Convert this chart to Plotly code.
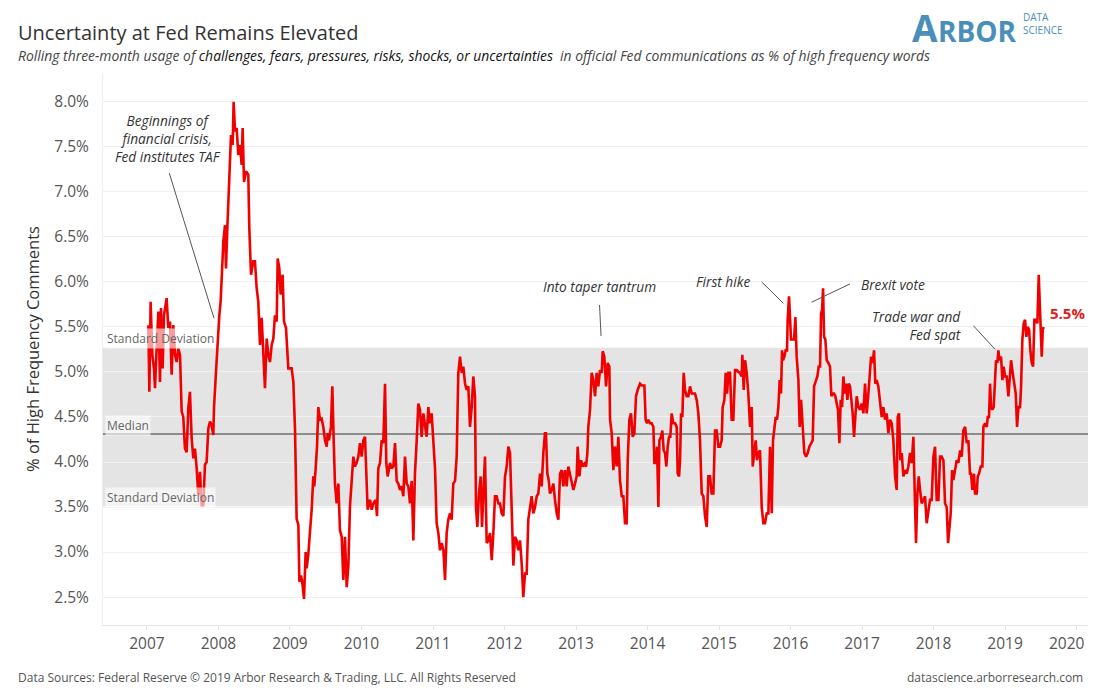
import plotly.graph_objects as go

# Rolling 3-month share of "uncertainty" words (% of high frequency words)
dates = [
    2007.019, 2007.033, 2007.051, 2007.075, 2007.098, 2007.112, 2007.135, 2007.159, 2007.182, 2007.196,
    2007.219, 2007.238, 2007.275, 2007.298, 2007.322, 2007.345, 2007.368, 2007.392, 2007.415, 2007.438,
    2007.462, 2007.485, 2007.508, 2007.531, 2007.555, 2007.578, 2007.601, 2007.625, 2007.648, 2007.671,
    2007.695, 2007.718, 2007.741, 2007.765, 2007.788, 2007.811, 2007.834, 2007.858, 2007.881, 2007.904,
    2007.928, 2007.937, 2007.965, 2007.988, 2008.012, 2008.030, 2008.049, 2008.068, 2008.091, 2008.105,
    2008.124, 2008.142, 2008.161, 2008.175, 2008.198, 2008.212, 2008.231, 2008.254, 2008.277, 2008.301,
    2008.324, 2008.338, 2008.357, 2008.385, 2008.417, 2008.431, 2008.455, 2008.487, 2008.510, 2008.534,
    2008.557, 2008.580, 2008.604, 2008.627, 2008.650, 2008.674, 2008.697, 2008.720, 2008.744, 2008.767,
    2008.790, 2008.814, 2008.828, 2008.851, 2008.869, 2008.897, 2008.916, 2008.944, 2008.977, 2009.023,
    2009.047, 2009.070, 2009.093, 2009.117, 2009.131, 2009.154, 2009.177, 2009.196, 2009.219, 2009.233,
    2009.256, 2009.280,
    2009.303, 2009.326, 2009.340, 2009.359, 2009.378, 2009.396, 2009.420, 2009.443, 2009.466, 2009.490,
    2009.513, 2009.527, 2009.545, 2009.573, 2009.592, 2009.611, 2009.629, 2009.653, 2009.676, 2009.699,
    2009.723, 2009.746, 2009.769, 2009.793, 2009.816, 2009.839, 2009.862, 2009.886, 2009.909, 2009.932,
    2009.956, 2009.979, 2010.002, 2010.026, 2010.049, 2010.072, 2010.086, 2010.119, 2010.142, 2010.166,
    2010.198, 2010.217, 2010.235, 2010.259, 2010.282, 2010.305, 2010.329, 2010.347, 2010.366, 2010.399,
    2010.422, 2010.445, 2010.469, 2010.492, 2010.515, 2010.538, 2010.562, 2010.585, 2010.608, 2010.632,
    2010.655, 2010.678, 2010.702, 2010.725, 2010.748, 2010.772, 2010.795, 2010.818, 2010.841, 2010.865,
    2010.888, 2010.911, 2010.935, 2010.958, 2010.981, 2011.005, 2011.028, 2011.051, 2011.075, 2011.098,
    2011.121, 2011.145, 2011.168, 2011.191, 2011.214, 2011.238, 2011.261, 2011.284, 2011.308, 2011.331,
    2011.354, 2011.378, 2011.401, 2011.424, 2011.448, 2011.471, 2011.494, 2011.517, 2011.541, 2011.564,
    2011.587,
    2011.601, 2011.620, 2011.643, 2011.667, 2011.685, 2011.704, 2011.727, 2011.751, 2011.774, 2011.797,
    2011.821, 2011.844, 2011.867, 2011.890, 2011.914, 2011.937, 2011.960, 2011.984, 2012.007, 2012.030,
    2012.054, 2012.077, 2012.100, 2012.124, 2012.147, 2012.170, 2012.193, 2012.217, 2012.240, 2012.263,
    2012.287, 2012.310, 2012.333, 2012.357, 2012.380, 2012.403, 2012.427, 2012.450, 2012.473, 2012.497,
    2012.520, 2012.543, 2012.566, 2012.580, 2012.599, 2012.618, 2012.636, 2012.660, 2012.683, 2012.706,
    2012.730, 2012.753, 2012.776, 2012.800, 2012.823, 2012.846, 2012.869, 2012.893, 2012.916, 2012.939,
    2012.963, 2012.986, 2013.009, 2013.023, 2013.047, 2013.070, 2013.093, 2013.117, 2013.140, 2013.159,
    2013.172, 2013.196, 2013.219, 2013.242, 2013.266, 2013.289, 2013.312, 2013.336, 2013.359, 2013.373,
    2013.396, 2013.420, 2013.443, 2013.466, 2013.476, 2013.499, 2013.522, 2013.545, 2013.569, 2013.592,
    2013.615, 2013.639, 2013.662, 2013.685, 2013.709, 2013.723, 2013.746, 2013.769, 2013.793, 2013.816,
    2013.839, 2013.862, 2013.895,
    2013.918, 2013.956, 2013.974, 2013.993, 2014.012, 2014.035, 2014.058, 2014.082, 2014.096, 2014.119,
    2014.133, 2014.152, 2014.166, 2014.189, 2014.207, 2014.226, 2014.245, 2014.263, 2014.282, 2014.301,
    2014.319, 2014.338, 2014.361, 2014.385, 2014.408, 2014.422, 2014.441, 2014.455, 2014.469, 2014.487,
    2014.506, 2014.524, 2014.548, 2014.571, 2014.594, 2014.618, 2014.641, 2014.664, 2014.688, 2014.711,
    2014.734, 2014.758, 2014.781, 2014.804, 2014.828, 2014.851, 2014.874, 2014.897, 2014.921, 2014.944,
    2014.967, 2014.991, 2015.014, 2015.037, 2015.051, 2015.075, 2015.093, 2015.112, 2015.131, 2015.154,
    2015.177, 2015.200, 2015.224, 2015.247, 2015.270, 2015.294, 2015.317, 2015.326, 2015.345, 2015.364,
    2015.387, 2015.410, 2015.434, 2015.457, 2015.471, 2015.490, 2015.513, 2015.531, 2015.550, 2015.573,
    2015.597, 2015.620, 2015.643, 2015.667, 2015.690, 2015.713, 2015.737, 2015.755, 2015.774, 2015.793,
    2015.811, 2015.830, 2015.848, 2015.867, 2015.881, 2015.895, 2015.914, 2015.932, 2015.951, 2015.960,
    2015.979, 2015.993, 2016.007, 2016.026, 2016.049, 2016.068, 2016.086, 2016.110, 2016.128, 2016.147,
    2016.170, 2016.193,
    2016.217, 2016.240, 2016.263, 2016.287, 2016.310, 2016.329, 2016.352, 2016.375, 2016.394, 2016.413,
    2016.427, 2016.441, 2016.455, 2016.469, 2016.487, 2016.506, 2016.529, 2016.552, 2016.571, 2016.590,
    2016.608, 2016.627, 2016.646, 2016.664, 2016.683, 2016.702, 2016.720, 2016.739, 2016.758, 2016.776,
    2016.795, 2016.814, 2016.832, 2016.851, 2016.869, 2016.888, 2016.907, 2016.925, 2016.949, 2016.972,
    2016.995, 2017.019, 2017.042, 2017.065, 2017.089, 2017.112, 2017.126, 2017.149, 2017.168, 2017.186,
    2017.205, 2017.228, 2017.252, 2017.275, 2017.298, 2017.322, 2017.345, 2017.368, 2017.392, 2017.415,
    2017.438, 2017.462, 2017.485, 2017.499, 2017.517, 2017.536, 2017.555, 2017.578, 2017.601, 2017.625,
    2017.648, 2017.671, 2017.695, 2017.718, 2017.737, 2017.755, 2017.774, 2017.793, 2017.811, 2017.834,
    2017.858, 2017.881, 2017.904, 2017.928, 2017.951, 2017.974, 2017.998, 2018.021, 2018.044, 2018.068,
    2018.091, 2018.114, 2018.138, 2018.161, 2018.184, 2018.203, 2018.221, 2018.240, 2018.259, 2018.277,
    2018.301, 2018.324, 2018.347, 2018.371, 2018.394, 2018.417, 2018.441, 2018.464, 2018.487, 2018.510,
    2018.524, 2018.543, 2018.566, 2018.580, 2018.604, 2018.618, 2018.636, 2018.660, 2018.683, 2018.697,
    2018.720, 2018.744, 2018.758, 2018.776, 2018.790, 2018.804, 2018.823, 2018.841, 2018.860, 2018.874,
    2018.893, 2018.907, 2018.921, 2018.944, 2018.963, 2018.981, 2019.000, 2019.023, 2019.047, 2019.065,
    2019.084, 2019.107, 2019.131, 2019.149, 2019.168, 2019.187, 2019.210, 2019.224, 2019.242, 2019.261,
    2019.280, 2019.298, 2019.317, 2019.336, 2019.354, 2019.373, 2019.392, 2019.410, 2019.434, 2019.452,
    2019.471, 2019.485, 2019.499, 2019.513, 2019.527, 2019.541,
]

usage_pct = [
    5.52, 4.78, 5.78, 5.19, 5.04, 4.82, 5.26, 5.67, 4.89, 5.71,
    5.04, 5.63, 5.82, 5.49, 5.56, 4.97, 5.52, 5.19, 5.11, 5.26,
    5.19, 4.56, 4.50, 4.15, 4.11, 4.60, 4.78, 4.26, 4.04, 4.15,
    3.93, 3.63, 3.89, 3.52, 3.52, 3.97, 4.00, 4.37, 4.45, 4.41,
    4.30, 4.60, 5.00, 5.34, 5.63, 5.78, 6.19, 6.45, 6.63, 6.15,
    6.60, 6.97, 7.15, 7.63, 7.52, 8.00, 7.67, 7.71, 7.41, 7.52,
    7.30, 7.71, 7.11, 7.23, 7.19, 6.60, 6.08, 6.23, 6.23, 5.93,
    5.78, 5.30, 5.60, 5.15, 4.82, 5.37, 5.19, 5.11, 5.30, 5.37,
    5.63, 5.56, 6.26, 6.15, 5.86, 6.08, 5.56, 5.49, 5.04, 5.04,
    4.89, 4.37, 3.37, 3.30, 2.67, 2.74, 2.63, 2.48, 3.00, 2.82,
    2.97, 3.23,
    3.47, 3.84, 3.73, 3.93, 4.17, 4.61, 4.47, 4.48, 4.39, 4.24,
    4.17, 4.32, 4.24, 4.39, 4.84, 4.24, 3.76, 3.54, 3.76, 3.24,
    3.17, 2.69, 3.17, 2.61, 2.84, 3.51, 3.84, 4.06, 3.95, 3.99,
    4.06, 4.21, 4.06, 4.24, 4.28, 3.79, 3.47, 3.58, 3.47, 3.54,
    3.58, 3.40, 3.93, 3.99, 4.24, 4.21, 4.87, 3.99, 3.84, 3.99,
    3.93, 3.95, 4.21, 3.79, 3.76, 3.69, 3.73, 3.62, 4.06, 3.76,
    3.73, 3.54, 3.79, 3.13, 3.88, 4.24, 4.65, 4.58, 4.28, 4.54,
    4.43, 4.28, 4.61, 4.43, 4.54, 4.24, 3.93, 3.32, 3.21, 3.02,
    3.10, 3.02, 2.69, 3.21, 3.36, 3.43, 3.36, 3.76, 3.79, 4.06,
    4.99, 5.17, 4.99, 5.06, 4.87, 4.80, 4.84, 4.39, 4.61, 4.95,
    4.73,
    3.50, 3.28, 3.65, 3.84, 3.28, 3.65, 4.06, 3.10, 3.13, 3.21,
    2.91, 3.21, 3.62, 3.62, 3.54, 3.54, 3.43, 3.40, 3.84, 3.95,
    4.17, 4.10, 3.43, 2.85, 3.17, 3.13, 3.02, 3.13, 2.87, 2.50,
    2.76, 2.76, 3.36, 3.50, 3.62, 3.43, 3.50, 3.62, 3.65, 3.87,
    3.73, 4.10, 4.32, 4.32, 3.87, 3.80, 3.65, 3.69, 3.76, 3.58,
    3.43, 3.36, 3.87, 3.91, 3.73, 3.91, 3.73, 3.95, 3.87, 3.80,
    3.69, 3.76, 3.84, 4.17, 3.84, 4.02, 3.95, 3.98, 3.95, 4.10,
    4.39, 4.58, 4.99, 4.91, 4.73, 4.99, 4.84, 5.02, 4.99, 5.23,
    5.17, 4.84, 5.10, 5.06, 4.47, 4.32, 3.91, 4.17, 3.95, 4.28,
    3.80, 3.62, 3.62, 3.32, 3.32, 4.02, 4.47, 4.54, 4.28, 4.32,
    4.73, 4.80, 4.87,
    4.85, 4.85, 4.47, 4.43, 4.47, 4.43, 4.43, 4.39, 3.99, 3.99,
    4.17, 3.50, 4.24, 4.28, 4.35, 4.13, 4.10, 3.95, 4.17, 4.28,
    4.28, 4.54, 4.43, 4.43, 4.39, 3.87, 3.84, 4.02, 4.54, 4.50,
    4.99, 4.80, 4.73, 4.73, 4.84, 4.76, 4.76, 4.76, 4.69, 4.54,
    4.24, 3.65, 3.62, 3.40, 3.28, 3.84, 3.84, 3.65, 3.65, 4.35,
    4.35, 4.17, 4.17, 4.24, 4.61, 4.69, 4.99, 4.76, 4.99, 4.99,
    4.47, 4.47, 5.02, 5.02, 5.00, 4.99, 4.95, 5.19, 4.80, 5.13,
    4.99, 4.76, 4.39, 4.61, 3.95, 4.10, 4.24, 4.02, 4.10, 4.13,
    3.50, 3.32, 3.32, 3.43, 3.43, 4.17, 3.43, 4.24, 4.39, 4.50,
    4.47, 4.61, 4.91, 4.76, 5.24, 5.13, 5.17, 5.24, 5.24, 5.58,
    5.84, 5.58, 5.36, 5.36, 5.36, 5.61, 5.17, 4.91, 4.39, 4.69,
    4.32, 4.10,
    4.06, 4.10, 4.17, 4.21, 4.24, 4.84, 4.91, 4.95, 5.06, 5.06,
    5.65, 5.69, 5.93, 5.39, 5.36, 5.13, 5.10, 5.06, 4.73, 4.76,
    4.76, 4.73, 4.65, 4.58, 4.21, 4.69, 4.61, 4.95, 4.76, 4.87,
    4.69, 4.87, 4.84, 4.69, 4.54, 4.28, 4.47, 4.73, 4.61, 4.58,
    4.65, 4.54, 4.87, 4.54, 4.76, 5.00, 5.17, 5.10, 5.24, 4.87,
    4.91, 4.84, 4.69, 4.50, 4.61, 4.47, 4.54, 4.32, 4.47, 4.43,
    4.24, 3.84, 3.69, 4.50, 4.54, 4.02, 4.10, 3.84, 3.91, 3.87,
    3.95, 4.10, 3.99, 4.28, 3.65, 3.10, 3.65, 3.84, 3.69, 3.54,
    3.58, 3.62, 3.32, 3.47, 3.58, 3.58, 4.06, 4.17, 3.58, 3.58,
    4.06, 4.06, 4.02, 3.54, 3.50, 3.10, 3.28, 3.43, 3.91, 3.80,
    3.91, 4.02, 3.99, 4.13, 4.06, 4.35, 4.39, 4.21, 4.24, 3.87,
    3.87, 3.69, 3.87, 3.65, 3.65, 3.84, 3.87, 3.95, 3.95, 4.39,
    4.43, 4.39, 4.50, 4.50, 4.87, 4.61, 4.58, 4.61, 4.91, 5.13,
    5.10, 5.24, 5.13, 5.17, 4.91, 5.06, 4.95, 4.95, 4.73, 4.99,
    5.13, 4.99, 4.84, 4.76, 4.39, 4.61, 4.61, 4.84, 5.36, 5.54,
    5.58, 5.39, 5.50, 5.47, 5.24, 5.10, 5.06, 5.58, 5.58, 5.54,
    6.08, 5.80, 5.54, 5.17, 5.47, 5.50,
]

# reference band (median and +/- one standard deviation)
median_pct = 4.31
band_low = 3.51
band_high = 5.27

year_ticks = list(range(2007, 2021))
pct_ticks = [2.5, 3.0, 3.5, 4.0, 4.5, 5.0, 5.5, 6.0, 6.5, 7.0, 7.5, 8.0]

FONT = 'Open Sans'
TEXT = '#333333'
RED = '#f00000'
LOGO = '#4a8fba'

# page pixels of the plot area: left 103, right 1088, top 73, bottom 625
# (the page body adds an 8px margin, so the figure itself is 1084 x 684)
def px(x):
    return (x - 103) / 985.0

def py(y):
    return (625 - y) / 552.0

fig = go.Figure()

fig.add_trace(go.Scatter(
    x=dates, y=usage_pct, mode='lines',
    line=dict(color=RED, width=2.6),
    showlegend=False, hoverinfo='x+y',
))

shapes = [
    dict(type='rect', xref='paper', yref='y', x0=0, x1=1, y0=band_low, y1=band_high,
         fillcolor='#e4e4e4', line=dict(width=0), layer='below'),
    dict(type='line', xref='paper', yref='y', x0=0, x1=1, y0=median_pct, y1=median_pct,
         line=dict(color='#8c8c8c', width=2), layer='between'),
]

# leader lines for the annotations
leaders = [
    (2007.312, 7.208, 2007.937, 5.597),
    (2013.329, 5.744, 2013.350, 5.400),
    (2015.597, 6.000, 2015.899, 5.763),
    (2016.832, 5.978, 2016.294, 5.774),
    (2018.557, 5.514, 2018.860, 5.252),
]
for x0, y0, x1, y1 in leaders:
    shapes.append(dict(type='line', xref='x', yref='y', x0=x0, y0=y0, x1=x1, y1=y1,
                       line=dict(color='#555555', width=1), layer='above'))

annotations = []

def note(text, x, y, xanchor='center', align='center'):
    annotations.append(dict(
        text='<i>' + text + '</i>', x=x, y=y, xref='x', yref='y', showarrow=False,
        xanchor=xanchor, yanchor='middle', align=align,
        font=dict(family=FONT, size=13.7, color=TEXT),
    ))

note('Beginnings of<br>financial crisis,<br>Fed institutes TAF', 2007.294, 7.589)
note('Into taper tantrum', 2013.334, 5.944)
note('First hike', 2015.056, 6.0)
note('Brexit vote', 2017.427, 5.967)
note('Trade war and<br>Fed spat', 2018.413, 5.517, xanchor='right', align='right')

# band labels
for label, yv in [('Standard Deviation', 5.367), ('Median', 4.411), ('Standard Deviation', 3.611)]:
    annotations.append(dict(
        text=label, x=0.002, y=yv, xref='paper', yref='y', showarrow=False,
        xanchor='left', yanchor='middle', bgcolor='rgba(255,255,255,0.6)', borderpad=1,
        font=dict(family=FONT, size=12, color='#666666'),
    ))

# latest value label
annotations.append(dict(
    text='<b>%.1f%%</b>' % usage_pct[-1], x=dates[-1], y=usage_pct[-1], xref='x', yref='y',
    showarrow=False, xanchor='left', yanchor='middle', xshift=4, yshift=14,
    font=dict(family=FONT, size=15, color='#dc1e1e'),
))

# last year label sits pulled in from the right edge
annotations.append(dict(
    text=str(year_ticks[-1]), x=px(1067), y=py(643), xref='paper', yref='paper', showarrow=False,
    xanchor='center', yanchor='middle', font=dict(family=FONT, size=15.5, color='#555555'),
))

# titles, logo and footer
annotations += [
    dict(text='Uncertainty at Fed Remains Elevated', x=px(16), y=py(33), xref='paper', yref='paper',
         showarrow=False, xanchor='left', yanchor='middle', font=dict(family=FONT, size=20, color=TEXT)),
    dict(text="<i>Rolling three-month usage of <span style='color:#111111'>challenges, fears, pressures, risks, "
              "shocks, or uncertainties</span>  in official Fed communications as % of high frequency words</i>",
         x=px(16), y=py(56), xref='paper', yref='paper', showarrow=False, xanchor='left', yanchor='middle',
         font=dict(family=FONT, size=13.9, color='#444444')),
    dict(text='A', x=px(939), y=py(27.5), xref='paper', yref='paper', showarrow=False,
         xanchor='right', yanchor='middle', borderpad=0,
         font=dict(family=FONT, size=37, color=LOGO, weight='bold')),
    dict(text='RBOR', x=px(937), y=py(30.8), xref='paper', yref='paper', showarrow=False,
         xanchor='left', yanchor='middle', borderpad=0,
         font=dict(family=FONT, size=28, color=LOGO, weight='bold')),
    dict(text='DATA<br>SCIENCE', x=px(1021), y=py(24), xref='paper', yref='paper', showarrow=False,
         xanchor='left', yanchor='middle', align='left',
         font=dict(family=FONT, size=10, color=LOGO)),
    dict(text='% of High Frequency Comments', x=px(32), y=0.5, xref='paper', yref='paper', showarrow=False,
         textangle=-90, xanchor='center', yanchor='middle', font=dict(family=FONT, size=16.5, color=TEXT)),
    dict(text='Data Sources: Federal Reserve \u00a9 2019 Arbor Research & Trading, LLC. All Rights Reserved',
         x=px(16), y=py(677), xref='paper', yref='paper', showarrow=False, xanchor='left', yanchor='middle',
         font=dict(family=FONT, size=12, color='#555555')),
    dict(text='datascience.arborresearch.com', x=px(1085), y=py(677), xref='paper', yref='paper',
         showarrow=False, xanchor='right', yanchor='middle',
         font=dict(family=FONT, size=12, color='#555555')),
]

fig.update_layout(
    width=1084, height=684,
    margin=dict(l=95, r=4, t=65, b=67),
    paper_bgcolor='white', plot_bgcolor='white',
    font=dict(family=FONT, color='#555555'),
    shapes=shapes, annotations=annotations,
    xaxis=dict(
        range=[2006.385, 2020.16], tickmode='array', tickvals=year_ticks,
        ticktext=[str(y) for y in year_ticks[:-1]] + [''], showgrid=False, zeroline=False,
        showline=True, linecolor='#e6e6e6', linewidth=1,
        ticks='outside', ticklen=4, tickcolor='#e6e6e6',
        tickfont=dict(family=FONT, size=15.5, color='#555555'),
    ),
    yaxis=dict(
        range=[2.19, 8.32], tickmode='array', tickvals=pct_ticks,
        ticktext=['%.1f%%' % v for v in pct_ticks], showgrid=True, gridcolor='#f0f0f0',
        zeroline=False, showline=True, linecolor='#eeeeee', ticks='',
        ticklabelstandoff=10, tickfont=dict(family=FONT, size=15.5, color='#555555'),
    ),
)

fig.write_html('out.html')
